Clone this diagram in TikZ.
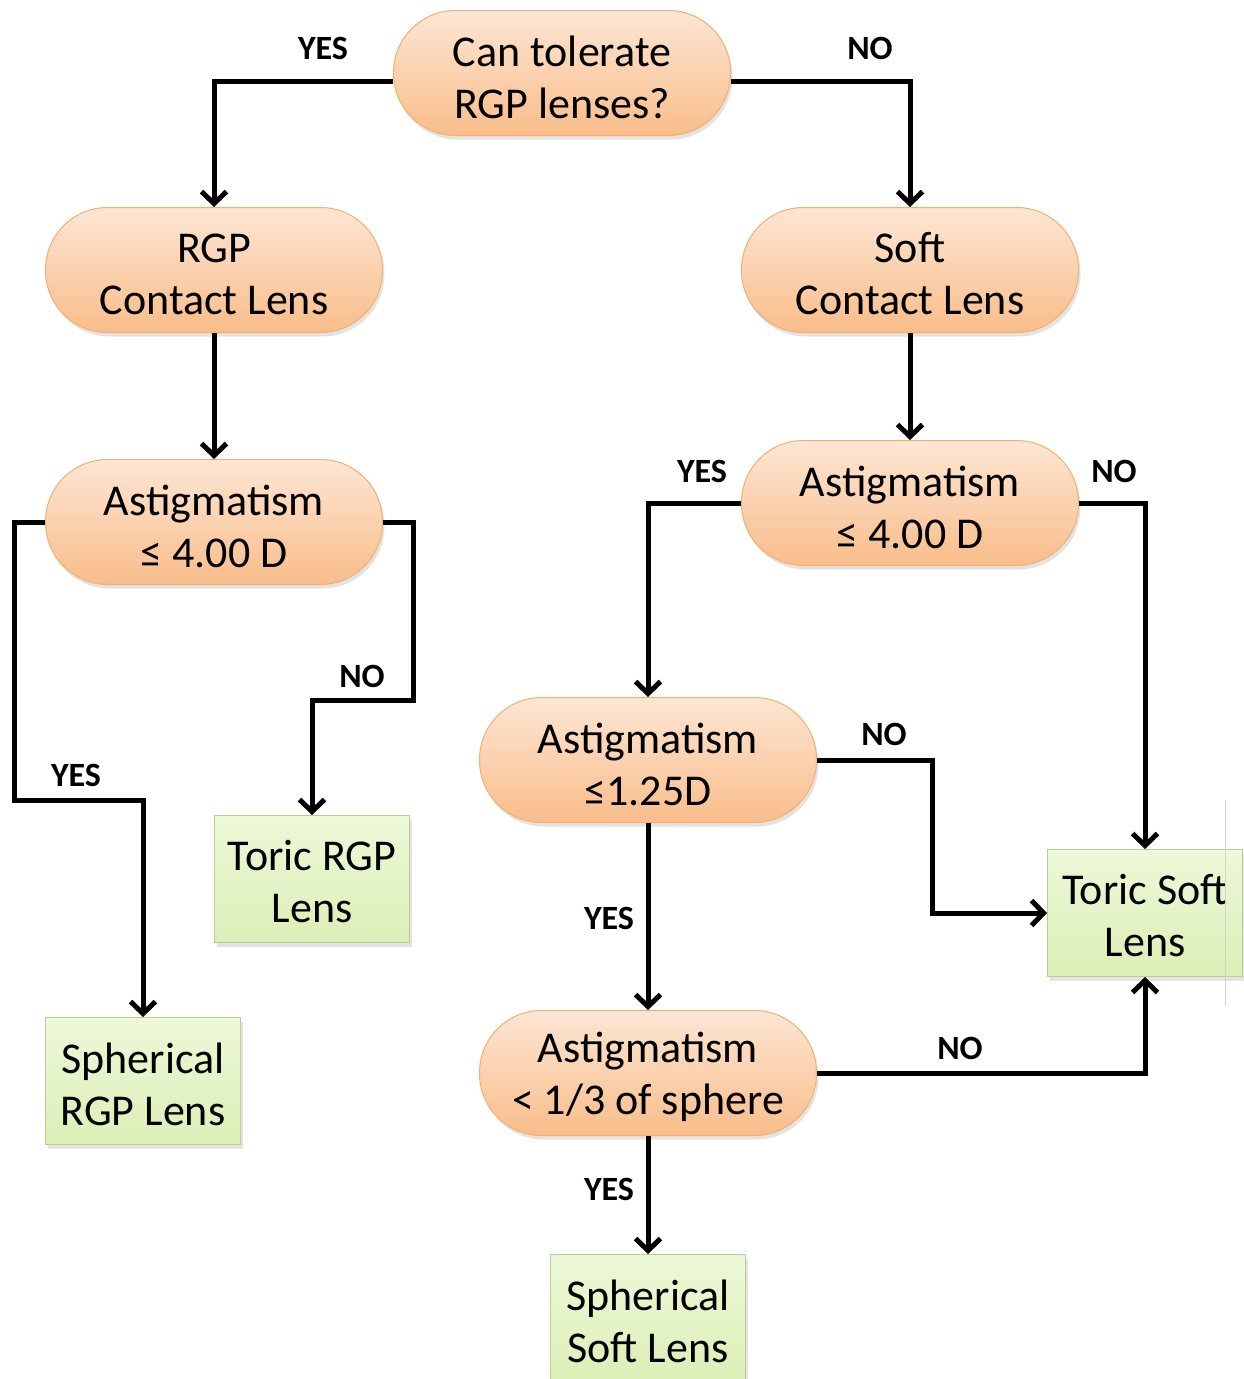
\documentclass[tikz,border=0pt]{standalone}
\usepackage{fontspec}
\setmainfont{Carlito}
\usetikzlibrary{arrows.meta,shadows}
\definecolor{peachtop}{HTML}{FDE6D4}
\definecolor{peachbot}{HTML}{F9BD8A}
\definecolor{peachline}{HTML}{F3B070}
\definecolor{greentop}{HTML}{EDF8D8}
\definecolor{greenbot}{HTML}{DCEFB6}
\definecolor{greenline}{HTML}{B9CF93}
\begin{document}
\begin{tikzpicture}[x=1pt,y=-1pt,
  decision/.style={rectangle, rounded corners=62pt, minimum width=337pt, minimum height=125pt,
    draw=peachline, line width=1pt, top color=peachtop, bottom color=peachbot,
    inner sep=0pt,
    drop shadow={opacity=0.22, shadow xshift=2pt, shadow yshift=-4pt}},
  result/.style={rectangle, minimum width=195pt, minimum height=127pt,
    draw=greenline, line width=1pt, top color=greentop, bottom color=greenbot,
    inner sep=0pt,
    drop shadow={opacity=0.22, shadow xshift=2pt, shadow yshift=-4pt}},
  txt/.style={align=center, inner sep=0pt, font=\fontsize{44}{52}\selectfont},
  flow/.style={line width=5pt, -{Straight Barb[length=12pt,width=25pt]}},
  lbl/.style={font=\fontsize{34}{38}\selectfont\bfseries, inner sep=0pt}
]
\useasboundingbox (0,0) rectangle (1243,1379);
\fill[white] (0,0) rectangle (1243,1379);

% decisions
\node[decision] (q0) at (562,73) {};
\node[txt] (q0t) at ([yshift=-4pt]q0.center) {Can tolerate\\RGP lenses?};
\node[decision] (rgp) at (214,270) {};
\node[txt] (rgpt) at ([yshift=-4pt]rgp.center) {RGP\\Contact Lens};
\node[decision] (soft) at (910,270) {};
\node[txt] (softt) at ([yshift=-4pt]soft.center) {Soft\\Contact Lens};
\node[decision] (la) at (214,522) {};
\node[txt] (lat) at ([yshift=-4pt]la.center) {Astigmatism\\≤ 4.00 D};
\node[decision] (ra) at (910,503) {};
\node[txt] (rat) at ([yshift=-4pt]ra.center) {Astigmatism\\≤ 4.00 D};
\node[decision] (a125) at (648,760) {};
\node[txt] (a125t) at ([yshift=-4pt]a125.center) {Astigmatism\\≤1.25D};
\node[decision] (a13) at (648,1073) {};
\node[txt] (a13t) at ([yshift=-4pt]a13.center) {Astigmatism\\< 1/3 of sphere};

% results
\node[result] (torrgp) at (312,879) {};
\node[txt] (torrgpt) at ([yshift=-3pt]torrgp.center) {Toric RGP\\Lens};
\node[result] (sphrgp) at (143,1081) {};
\node[txt] (sphrgpt) at ([yshift=-3pt]sphrgp.center) {Spherical\\RGP Lens};
\node[result] (tsoft) at (1145,913) {};
\node[txt] (tsoftt) at ([yshift=-3pt]tsoft.center) {Toric Soft\\Lens};
\node[result] (sphsoft) at (648,1318) {};
\node[txt] (sphsoftt) at ([yshift=-3pt]sphsoft.center) {Spherical\\Soft Lens};

% faint line
\draw[gray!35, line width=1pt] (1225,800) -- (1225,1005);

% connectors
\draw[flow] (q0.west |- 0,81) -| (rgp.north);
\draw[flow] (q0.east |- 0,81) -| (soft.north);
\draw[flow] (rgp.south) -- (la.north);
\draw[flow] (soft.south) -- (ra.north);
\draw[flow] (la.west) -| (14,800) -| (sphrgp.north);
\draw[flow] (la.east) -| (413,700) -| (torrgp.north);
\draw[flow] (ra.west) -| (a125.north);
\draw[flow] (ra.east) -| (tsoft.north);
\draw[flow] (a125.east) -| (932,913) -- (tsoft.west);
\draw[flow] (a125.south) -- (a13.north);
\draw[flow] (a13.east) -| (tsoft.south);
\draw[flow] (a13.south) -- (sphsoft.north);

% labels
\node[lbl] (l1) at (323,48) {YES};
\node[lbl] (l2) at (870,48) {NO};
\node[lbl] (l3) at (76,775) {YES};
\node[lbl] (l4) at (362,676) {NO};
\node[lbl] (l5) at (702,471) {YES};
\node[lbl] (l6) at (1114,471) {NO};
\node[lbl] (l7) at (884,734) {NO};
\node[lbl] (l8) at (609,918) {YES};
\node[lbl] (l9) at (960,1048) {NO};
\node[lbl] (l10) at (609,1189) {YES};
\end{tikzpicture}
\end{document}
